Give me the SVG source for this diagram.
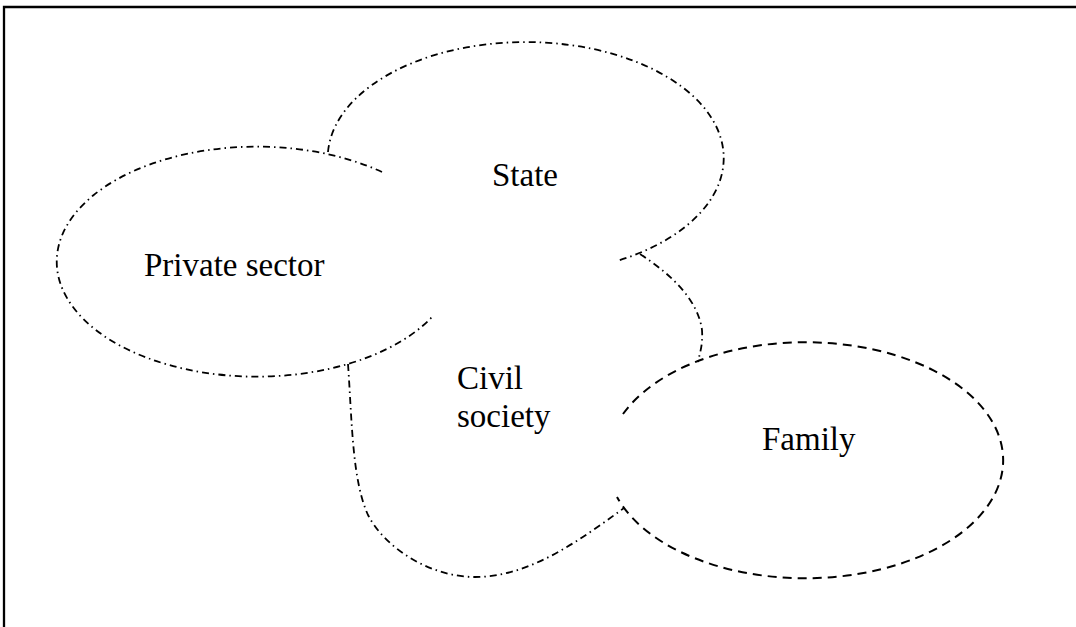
<svg xmlns="http://www.w3.org/2000/svg" width="1076" height="627" viewBox="0 0 1076 627">
  <style>
    .lbl { font-family: "Liberation Serif", "Times New Roman", serif; font-size: 33px; fill: #000; }
    .dd { fill: none; stroke: #000; stroke-width: 1.8; stroke-dasharray: 7 4 1.5 4; }
    .dsh { fill: none; stroke: #000; stroke-width: 2; stroke-dasharray: 9 6; }
  </style>
  <rect width="1076" height="627" fill="#fff"/>
  <g id="frame">
    <path d="M4 627 V7 H1076" fill="none" stroke="#000" stroke-width="2.3"/>
  </g>
  <g id="state">
    <path class="dd" d="M328 152 A198 116 0 1 1 617 261"/>
    <text class="lbl" x="492" y="186">State</text>
  </g>
  <g id="private-sector">
    <path class="dd" d="M382 172 A200 115 0 1 0 433 316"/>
    <text class="lbl" x="144" y="276">Private sector</text>
  </g>
  <g id="civil-society">
    <path class="dd" d="M640 254 C672 275 698 300 702 330 C703 345 700 352 698 362"/>
    <path class="dd" d="M348 364 C352 420 352 480 368 515 C385 548 430 577 475 577 C530 577 580 540 624 508"/>
    <text class="lbl" x="457" y="389">Civil</text>
    <text class="lbl" x="457" y="427">society</text>
  </g>
  <g id="family">
    <path class="dsh" d="M623 414 A198 118 0 1 1 617 497"/>
    <text class="lbl" x="762" y="450">Family</text>
  </g>
</svg>
